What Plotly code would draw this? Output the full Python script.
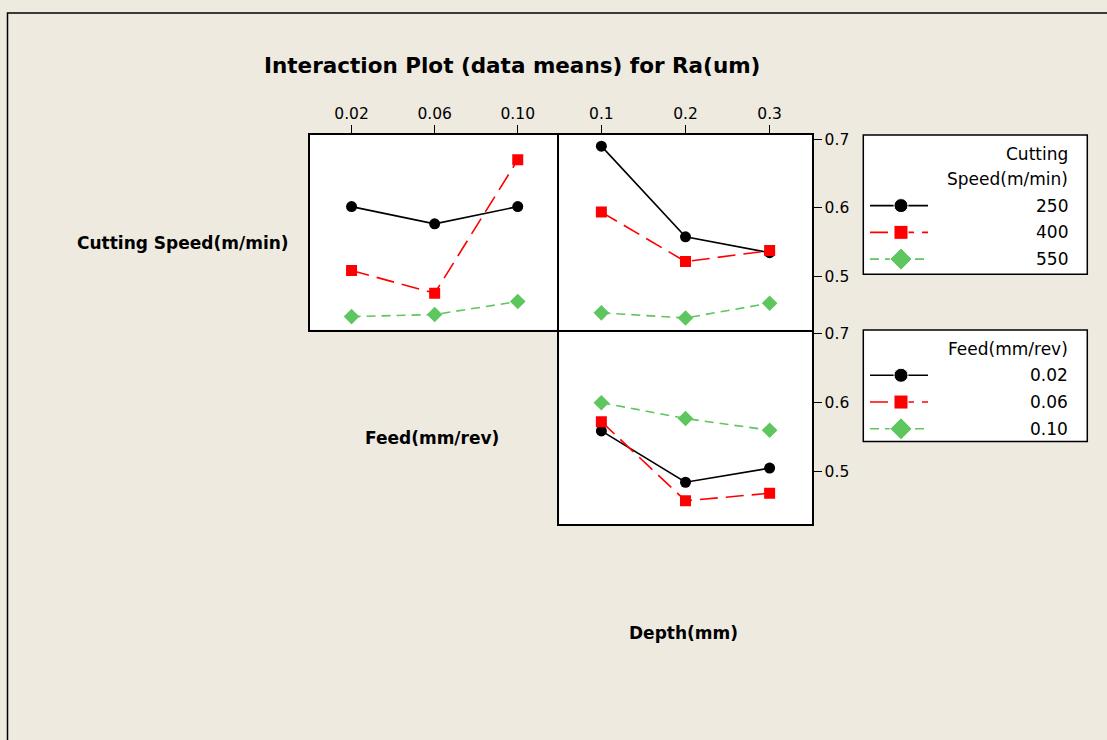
import plotly.graph_objects as go

# ---------------- data ----------------
feed_levels = ["0.02", "0.06", "0.10"]
depth_levels = ["0.1", "0.2", "0.3"]
speed_names = ["250", "400", "550"]
feed_names = ["0.02", "0.06", "0.10"]

# Cutting speed x Feed (top-left panel)
speed_by_feed_250 = [0.602, 0.577, 0.602]
speed_by_feed_400 = [0.509, 0.476, 0.670]
speed_by_feed_550 = [0.442, 0.445, 0.464]

# Cutting speed x Depth (top-right panel)
speed_by_depth_250 = [0.690, 0.558, 0.535]
speed_by_depth_400 = [0.594, 0.522, 0.538]
speed_by_depth_550 = [0.4475, 0.440, 0.4615]

# Feed x Depth (bottom panel)
feed_by_depth_002 = [0.559, 0.4845, 0.505]
feed_by_depth_006 = [0.5725, 0.4575, 0.4686]
feed_by_depth_010 = [0.600, 0.577, 0.560]

y_ticks = [0.5, 0.6, 0.7]
y_range = [0.4232, 0.7062]

# ---------------- styles ----------------
W, H = 1107, 740
BG = "#EEEAE0"
styles = [
    dict(color="black", dash="solid", symbol="circle", size=11, width=1.6),
    dict(color="#FF0000", dash="18px,8px", symbol="square", size=11, width=1.6),
    dict(color="#5EC65E", dash="9px,6px", symbol="diamond", size=12, width=1.6),
]

def px_x(p):
    return p / W

def px_y(p):
    return 1 - p / H

fig = go.Figure()

panels = [
    ("x", "y", feed_levels, [speed_by_feed_250, speed_by_feed_400, speed_by_feed_550]),
    ("x2", "y2", depth_levels, [speed_by_depth_250, speed_by_depth_400, speed_by_depth_550]),
    ("x3", "y3", depth_levels, [feed_by_depth_002, feed_by_depth_006, feed_by_depth_010]),
]
for xa, ya, cats, series in panels:
    for s, st in zip(series, styles):
        fig.add_trace(go.Scatter(
            x=list(range(len(cats))), y=s, xaxis=xa, yaxis=ya,
            mode="lines+markers", showlegend=False, hoverinfo="skip",
            line=dict(color=st["color"], dash=st["dash"], width=st["width"]),
            marker=dict(color=st["color"], symbol=st["symbol"], size=st["size"],
                        opacity=1),
        ))

# panel geometry (pixels)
P1 = (310, 559.3, 131.7, 327.3)
P2 = (559.3, 811.7, 131.7, 327.3)
P3 = (559.3, 811.7, 327.3, 523.3)

tickfont = dict(family="DejaVu Sans", size=15.5, color="black")
common_x = dict(range=[-0.5, 2.5], showgrid=False, zeroline=False, showline=True,
                linecolor="black", linewidth=1.6, mirror=True, tickmode="array",
                tickvals=[0, 1, 2], tickfont=tickfont, ticklen=8, tickcolor="black",
                tickwidth=1.2, fixedrange=True)
common_y = dict(range=y_range, showgrid=False, zeroline=False, showline=True,
                linecolor="black", linewidth=1.6, mirror=True, tickfont=tickfont,
                ticklen=8, tickcolor="black", tickwidth=1.2, fixedrange=True)

def dom(P):
    return [px_x(P[0]), px_x(P[1])], [px_y(P[3]), px_y(P[2])]

d1x, d1y = dom(P1)
d2x, d2y = dom(P2)
d3x, d3y = dom(P3)

# legend geometry (pixels)
LX0, LX1 = 863.3, 1087.3
LEG_TOP, LEG_BOT = 131.7, 440.0
TEXT_RIGHT = 1069
ROW = 26.9
KEY_X0, KEY_MID, KEY_X1 = 870, 901, 928

layout = dict(
    width=W, height=H, margin=dict(l=0, r=0, t=0, b=0),
    paper_bgcolor=BG, plot_bgcolor="rgba(0,0,0,0)", showlegend=False,
    xaxis=dict(common_x, domain=d1x, anchor="y", side="top", ticks="outside",
               ticktext=feed_levels),
    # right edge of panel 1 is drawn by panel 2's mirrored line
    yaxis=dict(common_y, domain=d1y, anchor="x", showticklabels=False, ticks="",
               mirror=False),
    xaxis2=dict(common_x, domain=d2x, anchor="y2", side="top", ticks="outside",
                ticktext=depth_levels),
    yaxis2=dict(common_y, domain=d2y, anchor="x2", side="right", ticks="outside",
                tickvals=y_ticks, ticktext=[f"{v:.1f}" for v in y_ticks]),
    # top edge of panel 3 is drawn by panel 2's mirrored line
    xaxis3=dict(common_x, domain=d3x, anchor="y3", showticklabels=False, ticks="",
                ticktext=depth_levels, mirror=False),
    yaxis3=dict(common_y, domain=d3y, anchor="x3", side="right", ticks="outside",
                tickvals=y_ticks, ticktext=[f"{v:.1f}" for v in y_ticks]),
    # overlay axis in pixel units, limited to the legend column, for the legend keys
    xaxis4=dict(domain=[px_x(LX0), px_x(LX1)], range=[LX0, LX1], visible=False,
                fixedrange=True, anchor="y4"),
    yaxis4=dict(domain=[px_y(LEG_BOT), px_y(LEG_TOP)], range=[LEG_BOT, LEG_TOP],
                visible=False, fixedrange=True, anchor="x4"),
)
fig.update_layout(**layout)

shapes = []
annotations = []

# outer frame
shapes.append(dict(type="rect", xref="paper", yref="paper",
                   x0=px_x(7.5), x1=1.05, y0=px_y(9), y1=-0.05,
                   line=dict(color="black", width=1.5), layer="below"))
# white panel backgrounds
for P in (P1, P2, P3):
    shapes.append(dict(type="rect", xref="paper", yref="paper",
                       x0=px_x(P[0]), x1=px_x(P[1]), y0=px_y(P[3]), y1=px_y(P[2]),
                       fillcolor="white", line=dict(width=0), layer="below"))

# legends
legend_specs = [
    (131.7, 271.7, ["Cutting", "Speed(m/min)"], [151, 175.7], speed_names, 202.7),
    (327.7, 440.0, ["Feed(mm/rev)"], [346.7], feed_names, 373.3),
]
legend_sizes = [14, 14, 17]
legfont = dict(family="DejaVu Sans", size=17, color="black")
for top, bot, title_lines, title_ys, names, first_row in legend_specs:
    shapes.append(dict(type="rect", xref="paper", yref="paper",
                       x0=px_x(LX0), x1=px_x(LX1), y0=px_y(bot), y1=px_y(top),
                       fillcolor="white", line=dict(color="black", width=1.5),
                       layer="below"))
    for t, ty in zip(title_lines, title_ys):
        annotations.append(dict(text=t, xref="paper", yref="paper",
                                x=px_x(TEXT_RIGHT), y=px_y(ty), xanchor="right",
                                yanchor="middle", showarrow=False, font=legfont,
                                borderpad=0))
    for i, (nm, st) in enumerate(zip(names, styles)):
        ry = first_row + i * ROW
        annotations.append(dict(text=nm, xref="paper", yref="paper",
                                x=px_x(TEXT_RIGHT), y=px_y(ry), xanchor="right",
                                yanchor="middle", showarrow=False, font=legfont,
                                borderpad=0))
        fig.add_trace(go.Scatter(
            x=[KEY_X0, KEY_MID, KEY_X1], y=[ry, ry, ry], xaxis="x4", yaxis="y4",
            mode="lines+markers", showlegend=False, hoverinfo="skip",
            line=dict(color=st["color"], dash=st["dash"], width=1.6),
            marker=dict(color=st["color"], symbol=st["symbol"], opacity=1,
                        size=[0, legend_sizes[i], 0]),
        ))

# title & factor labels
annotations.append(dict(text="<b>Interaction Plot (data means) for Ra(um)</b>",
                        xref="paper", yref="paper", x=px_x(511.5), y=px_y(61.5),
                        xanchor="center", yanchor="middle", showarrow=False,
                        font=dict(family="DejaVu Sans", size=21.5, color="black")))
labfont = dict(family="DejaVu Sans", size=17, color="black")
for txt, cx, cy in [("Cutting Speed(m/min)", 183, 240),
                    ("Feed(mm/rev)", 432, 436),
                    ("Depth(mm)", 683, 632)]:
    annotations.append(dict(text=f"<b>{txt}</b>", xref="paper", yref="paper",
                            x=px_x(cx), y=px_y(cy), xanchor="center", yanchor="middle",
                            showarrow=False, font=labfont))

fig.update_layout(shapes=shapes, annotations=annotations)
fig.write_html("out.html", config={"displayModeBar": False},
               post_script="document.body.style.margin='0px';"
                           "document.body.style.overflow='hidden';")
